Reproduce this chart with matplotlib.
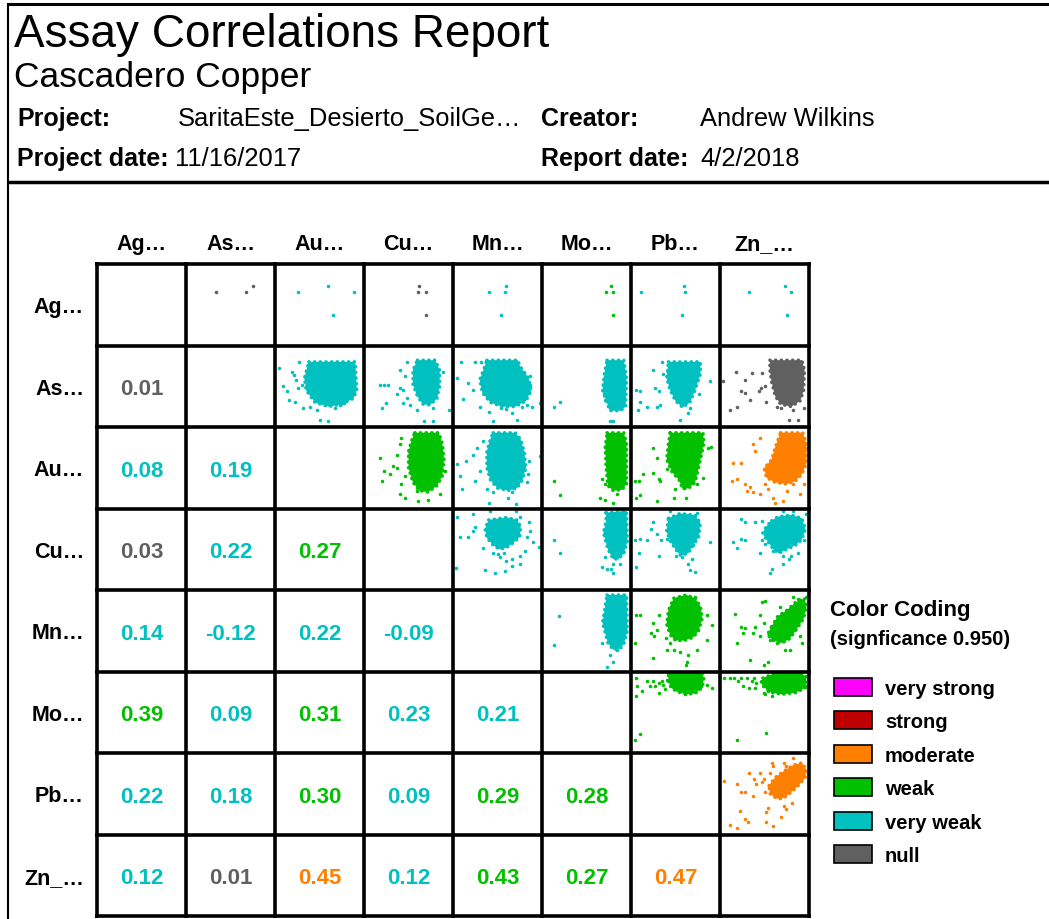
import matplotlib
matplotlib.use('Agg')
import matplotlib.pyplot as plt

plt.rcParams['font.family'] = ['Liberation Sans', 'DejaVu Sans']

W, H = 1049, 920

variables = ['Ag…', 'As…', 'Au…', 'Cu…', 'Mn…', 'Mo…', 'Pb…', 'Zn_…']

# lower triangle, correlation coefficients per row (columns Ag..)
corr_as = [0.01]
corr_au = [0.08, 0.19]
corr_cu = [0.03, 0.22, 0.27]
corr_mn = [0.14, -0.12, 0.22, -0.09]
corr_mo = [0.39, 0.09, 0.31, 0.23, 0.21]
corr_pb = [0.22, 0.18, 0.30, 0.09, 0.29, 0.28]
corr_zn = [0.12, 0.01, 0.45, 0.12, 0.43, 0.27, 0.47]

legend_labels = ['very strong', 'strong', 'moderate', 'weak', 'very weak', 'null']
legend_colors = ['#ff00ff', '#c00000', '#ff8000', '#00c000', '#00c0c0', '#606060']

# scatter clouds, upper triangle, cell coords (x 0-100 left->right, y 0-100 top->bottom)
# row Ag: only a few samples
pts_ag_as = [(34, 34), (67, 34), (75, 27)]
pts_ag_au = [(26, 34), (60, 27), (89, 34), (65, 62)]
pts_ag_cu = [(62, 27), (61, 34), (70, 34), (70, 62)]
pts_ag_mn = [(40, 34), (60, 27), (58, 34), (54, 62)]
pts_ag_mo = [(77, 27), (72, 34), (80, 34), (80, 62)]
pts_ag_pb = [(11, 34), (60, 27), (61, 34), (57, 62)]
pts_ag_zn = [(33, 34), (73, 27), (80, 34), (75, 62)]

# dense cores (outline of the solid blob) + scattered samples around them
core_as_au = [(38, 20), (90, 20), (92, 55), (88, 65), (75, 72), (60, 75), (45, 70), (35, 55), (33, 40)]
pts_as_au = [(5, 28), (9, 50), (13, 56), (19, 32), (21, 36), (26, 52), (27, 20), (16, 67), (22, 69),
             (32, 77), (39, 75), (47, 79), (50, 92), (59, 93), (67, 77), (73, 73), (77, 71), (80, 58),
             (88, 58), (30, 48), (24, 42)]
core_as_cu = [(60, 18), (80, 18), (85, 30), (85, 50), (82, 65), (74, 73), (66, 72), (60, 62), (55, 48), (55, 30)]
pts_as_cu = [(18, 48), (22, 48), (27, 48), (20, 77), (25, 71), (37, 60), (40, 52), (44, 54), (48, 20),
             (40, 30), (46, 38), (44, 71), (52, 73), (59, 79), (67, 93), (78, 93), (78, 77), (95, 79),
             (89, 32), (48, 65)]
core_as_mn = [(38, 18), (73, 18), (75, 25), (85, 40), (88, 55), (82, 68), (70, 75), (55, 75), (42, 70),
              (33, 58), (30, 42), (35, 28)]
pts_as_mn = [(9, 20), (25, 20), (31, 20), (4, 40), (17, 46), (23, 54), (11, 66), (30, 75), (41, 82),
             (45, 93), (54, 77), (60, 78), (66, 83), (72, 92), (77, 75), (83, 73), (89, 75), (86, 48),
             (86, 38), (98, 71)]
core_as_mo = [(73, 18), (92, 18), (95, 40), (94, 75), (88, 80), (76, 80), (73, 70), (68, 55), (70, 35)]
pts_as_mo = [(13, 75), (20, 69), (76, 93), (80, 93), (71, 67), (70, 60)]
core_as_pb = [(42, 20), (78, 20), (78, 35), (72, 55), (66, 70), (58, 76), (50, 68), (44, 55), (40, 40)]
pts_as_pb = [(6, 54), (10, 69), (18, 75), (8, 79), (29, 75), (33, 73), (27, 52), (31, 56), (25, 30),
             (55, 92), (66, 77), (64, 83), (89, 44), (76, 60), (10, 56), (35, 20), (36, 35)]
core_as_zn = [(56, 18), (92, 18), (95, 30), (94, 55), (90, 68), (80, 75), (68, 72), (62, 62), (58, 45), (56, 30)]
pts_as_zn = [(18, 33), (28, 42), (36, 34), (47, 34), (46, 52), (51, 50), (44, 56), (28, 58), (24, 56),
             (34, 67), (19, 75), (11, 79), (52, 69), (64, 75), (69, 77), (77, 92), (88, 92), (82, 79),
             (94, 77), (3, 44)]

core_au_cu = [(57, 7), (84, 7), (88, 20), (90, 40), (88, 60), (82, 72), (72, 80), (62, 78), (55, 68),
              (50, 50), (50, 30), (54, 15)]
pts_au_cu = [(18, 38), (22, 54), (20, 66), (29, 58), (33, 48), (37, 34), (40, 21), (42, 13), (37, 50),
             (42, 70), (40, 82), (46, 87), (61, 91), (72, 89), (85, 82), (59, 78), (46, 60), (91, 54)]
core_au_mn = [(45, 7), (70, 7), (76, 15), (80, 30), (82, 50), (78, 65), (72, 75), (62, 78), (50, 75),
              (42, 65), (38, 50), (38, 30), (42, 15)]
pts_au_mn = [(8, 60), (10, 76), (4, 46), (15, 42), (23, 34), (27, 26), (34, 17), (25, 66), (30, 54),
             (38, 76), (40, 93), (45, 80), (62, 87), (66, 80), (83, 68), (84, 58), (85, 42), (75, 36),
             (98, 36), (71, 95)]
core_au_mo = [(73, 7), (92, 7), (95, 20), (95, 70), (90, 77), (80, 78), (74, 72), (72, 50), (71, 25)]
pts_au_mo = [(13, 66), (20, 83), (65, 87), (71, 89), (80, 93), (71, 70), (67, 64), (84, 82)]
core_au_pb = [(44, 7), (81, 7), (82, 20), (78, 40), (75, 55), (72, 68), (65, 75), (58, 76), (54, 65),
              (46, 55), (40, 40), (42, 20)]
pts_au_pb = [(4, 66), (9, 66), (10, 84), (6, 87), (14, 58), (25, 56), (31, 64), (33, 66), (25, 26),
             (29, 38), (40, 52), (29, 91), (49, 76), (62, 87), (62, 72), (74, 70), (81, 62), (87, 26),
             (90, 24), (48, 87)]
core_au_zn = [(68, 7), (93, 7), (97, 20), (97, 45), (92, 58), (85, 66), (75, 70), (62, 68), (52, 62),
              (50, 50), (58, 40), (62, 25)]
pts_au_zn = [(15, 44), (24, 44), (13, 66), (19, 64), (28, 70), (30, 78), (37, 80), (34, 74), (45, 82),
             (51, 70), (54, 76), (60, 87), (62, 93), (71, 91), (75, 78), (45, 13), (37, 21), (39, 30),
             (49, 52), (82, 70), (94, 70), (95, 26), (90, 82)]

core_cu_mn = [(40, 14), (60, 11), (72, 14), (76, 22), (75, 35), (68, 42), (60, 48), (52, 50), (45, 45),
              (38, 36), (36, 25)]
pts_cu_mn = [(4, 11), (23, 7), (42, 3), (71, 3), (75, 11), (85, 17), (86, 27), (83, 35), (90, 41),
             (81, 52), (75, 58), (66, 62), (66, 70), (60, 64), (53, 60), (51, 56), (57, 54), (34, 48),
             (45, 54), (8, 35), (17, 35), (23, 27), (25, 23), (36, 76), (47, 79), (58, 77), (75, 68),
             (3, 73), (97, 47)]
core_cu_mo = [(72, 5), (95, 3), (96, 40), (92, 55), (86, 62), (80, 62), (74, 50), (69, 30), (72, 15)]
pts_cu_mo = [(13, 39), (20, 54), (67, 72), (73, 74), (80, 68), (78, 74), (80, 79), (88, 68), (71, 60)]
core_cu_pb = [(42, 12), (55, 6), (72, 8), (78, 18), (76, 35), (70, 45), (64, 55), (56, 58), (50, 50),
              (44, 40), (40, 28)]
pts_cu_pb = [(4, 39), (10, 37), (18, 39), (9, 54), (6, 72), (25, 17), (23, 25), (29, 31), (31, 58),
             (40, 37), (34, 39), (51, 58), (57, 60), (64, 68), (66, 76), (72, 78), (68, 62), (70, 45),
             (89, 41), (44, 3), (74, 5)]
core_cu_zn = [(58, 15), (65, 10), (80, 8), (92, 12), (96, 25), (92, 38), (85, 45), (75, 50), (66, 55),
              (60, 50), (52, 38), (48, 30), (52, 22)]
pts_cu_zn = [(15, 41), (19, 48), (24, 37), (28, 39), (24, 13), (28, 17), (39, 17), (47, 15), (52, 27),
             (47, 39), (51, 43), (45, 54), (60, 52), (64, 48), (71, 58), (77, 62), (71, 68), (58, 74),
             (56, 79), (80, 58), (88, 54), (94, 39), (97, 7), (82, 3), (71, 3)]

core_mn_mo = [(73, 6), (95, 6), (96, 50), (92, 66), (88, 72), (80, 73), (74, 65), (68, 40), (71, 20)]
pts_mn_mo = [(19, 32), (13, 67), (76, 80), (80, 88), (73, 94), (84, 74), (67, 65), (88, 8)]
core_mn_pb = [(48, 10), (62, 6), (72, 10), (78, 20), (80, 35), (76, 50), (70, 58), (60, 62), (50, 62),
              (44, 55), (40, 42), (42, 25)]
pts_mn_pb = [(6, 31), (10, 31), (4, 65), (25, 41), (31, 31), (29, 49), (23, 53), (26, 57), (39, 59),
             (44, 65), (40, 74), (25, 84), (48, 74), (55, 76), (64, 80), (74, 74), (85, 61), (91, 43),
             (85, 31), (72, 8), (62, 92), (63, 88), (55, 8)]
core_mn_zn = [(58, 45), (65, 32), (75, 25), (85, 15), (95, 10), (97, 20), (94, 35), (85, 50), (78, 60),
              (70, 65), (60, 62), (53, 55)]
pts_mn_zn = [(17, 29), (24, 45), (28, 47), (26, 53), (37, 53), (39, 45), (45, 31), (47, 15), (51, 13),
             (49, 41), (45, 57), (56, 61), (64, 65), (73, 74), (79, 74), (92, 65), (67, 21), (82, 8),
             (88, 11), (97, 8), (19, 65), (34, 86), (49, 92), (54, 88), (90, 57)]

core_mo_pb = [(42, 2), (80, 2), (82, 8), (80, 20), (72, 27), (62, 28), (52, 25), (45, 20), (42, 12)]
pts_mo_pb = [(6, 8), (7, 18), (6, 30), (12, 24), (18, 12), (21, 18), (25, 12), (27, 18), (31, 14),
             (31, 26), (35, 12), (36, 16), (38, 22), (40, 10), (79, 18), (85, 16), (91, 20), (61, 28),
             (10, 77), (4, 84)]
core_mo_zn = [(48, 8), (62, 2), (90, 2), (97, 6), (96, 20), (85, 26), (70, 28), (58, 26), (50, 20), (46, 14)]
pts_mo_zn = [(4, 8), (11, 8), (16, 8), (20, 12), (24, 8), (26, 18), (30, 8), (33, 20), (36, 12), (38, 8),
             (39, 20), (41, 14), (49, 26), (51, 28), (54, 24), (58, 30), (19, 84), (52, 76), (97, 18)]

core_pb_zn = [(55, 40), (62, 30), (72, 22), (82, 15), (92, 12), (97, 20), (96, 30), (88, 40), (80, 48),
              (72, 55), (64, 56), (56, 50)]
pts_pb_zn = [(4, 34), (19, 38), (24, 48), (28, 48), (37, 53), (33, 24), (38, 32), (41, 38), (45, 24),
             (47, 36), (51, 48), (49, 32), (58, 12), (60, 16), (56, 24), (72, 12), (74, 16), (82, 6),
             (22, 71), (28, 81), (32, 85), (11, 88), (19, 92), (52, 73), (52, 85), (59, 89), (54, 67),
             (69, 79), (67, 55), (72, 65), (74, 69), (81, 61)]

corr_rows = [None, corr_as, corr_au, corr_cu, corr_mn, corr_mo, corr_pb, corr_zn]
clouds = {
    (0, 1): (None, pts_ag_as), (0, 2): (None, pts_ag_au), (0, 3): (None, pts_ag_cu),
    (0, 4): (None, pts_ag_mn), (0, 5): (None, pts_ag_mo), (0, 6): (None, pts_ag_pb),
    (0, 7): (None, pts_ag_zn),
    (1, 2): (core_as_au, pts_as_au), (1, 3): (core_as_cu, pts_as_cu), (1, 4): (core_as_mn, pts_as_mn),
    (1, 5): (core_as_mo, pts_as_mo), (1, 6): (core_as_pb, pts_as_pb), (1, 7): (core_as_zn, pts_as_zn),
    (2, 3): (core_au_cu, pts_au_cu), (2, 4): (core_au_mn, pts_au_mn), (2, 5): (core_au_mo, pts_au_mo),
    (2, 6): (core_au_pb, pts_au_pb), (2, 7): (core_au_zn, pts_au_zn),
    (3, 4): (core_cu_mn, pts_cu_mn), (3, 5): (core_cu_mo, pts_cu_mo), (3, 6): (core_cu_pb, pts_cu_pb),
    (3, 7): (core_cu_zn, pts_cu_zn),
    (4, 5): (core_mn_mo, pts_mn_mo), (4, 6): (core_mn_pb, pts_mn_pb), (4, 7): (core_mn_zn, pts_mn_zn),
    (5, 6): (core_mo_pb, pts_mo_pb), (5, 7): (core_mo_zn, pts_mo_zn),
    (6, 7): (core_pb_zn, pts_pb_zn),
}


def strength_color(r):
    a = abs(r)
    if a < 0.05:
        return legend_colors[5]
    if a < 0.25:
        return legend_colors[4]
    if a < 0.44:
        return legend_colors[3]
    if a < 0.65:
        return legend_colors[2]
    if a < 0.85:
        return legend_colors[1]
    return legend_colors[0]


def corr(i, j):
    # symmetric lookup into the lower triangle
    if i < j:
        i, j = j, i
    return corr_rows[i][j]


fig = plt.figure(figsize=(W / 100, H / 100), dpi=100)
bg = fig.add_axes([0, 0, 1, 1])
bg.set_xlim(0, W)
bg.set_ylim(H, 0)
bg.axis('off')

# report header
bg.plot([7.5, W], [5, 5], color='black', lw=2.2, solid_capstyle='butt')
bg.plot([7.5, 7.5], [4, H], color='black', lw=1.5, solid_capstyle='butt')
bg.plot([7.5, W], [183, 183], color='black', lw=2.5, solid_capstyle='butt')
bg.text(14, 47, 'Assay Correlations Report', fontsize=33, va='baseline')
bg.text(14, 87, 'Cascadero Copper', fontsize=25.5, va='baseline')
lab = dict(fontsize=18, fontweight='bold', va='baseline')
val = dict(fontsize=18.4, va='baseline')
bg.text(17, 126, 'Project:', **lab)
bg.text(178, 126, 'SaritaEste_Desierto_SoilGe…', **val)
bg.text(17, 166, 'Project date:', **lab)
bg.text(175, 166, '11/16/2017', **val)
bg.text(541, 126, 'Creator:', **lab)
bg.text(700, 126, 'Andrew Wilkins', **val)
bg.text(541, 166, 'Report date:', **lab)
bg.text(700, 166, '4/2/2018', **val)

# matrix geometry (pixels)
x0, y0, cw, ch = 97, 265, 89, 81.5
n = len(variables)

for k, name in enumerate(variables):
    bg.text(x0 + (k + 0.5) * cw, 250, name, fontsize=15.5, fontweight='bold', ha='center', va='baseline')
    bg.text(84, y0 + (k + 0.5) * ch + 7.7, name, fontsize=15.5, fontweight='bold', ha='right', va='baseline')

for i in range(1, n):
    for j in range(i):
        r = corr(i, j)
        bg.text(x0 + (j + 0.5) * cw, y0 + (i + 0.5) * ch + 8, f'{r:.2f}', fontsize=16, fontweight='bold',
                color=strength_color(r), ha='center', va='baseline')

for (i, j), (core, pts) in clouds.items():
    c = strength_color(corr(i, j))
    ax = fig.add_axes([(x0 + j * cw) / W, 1 - (y0 + (i + 1) * ch) / H, cw / W, ch / H])
    ax.set_xlim(0, 100)
    ax.set_ylim(100, 0)
    ax.axis('off')
    if core:
        xs = [p[0] for p in core]
        ys = [p[1] for p in core]
        ax.fill(xs, ys, color=c, lw=0)
        # grainy rim so the blob edge looks like packed dots
        ax.plot(xs + xs[:1], ys + ys[:1], color=c, lw=2.4, linestyle=(0, (0.1, 1.6)),
                dash_capstyle='round')
    ax.scatter([p[0] for p in pts], [p[1] for p in pts], s=6.5, color=c, linewidths=0)

# grid lines on top of the clouds
ov = fig.add_axes([0, 0, 1, 1], zorder=10)
ov.set_xlim(0, W)
ov.set_ylim(H, 0)
ov.axis('off')
for k in range(n + 1):
    ov.plot([x0 + k * cw] * 2, [y0 - 1.8, y0 + n * ch + 1.8], color='black', lw=2.6, solid_capstyle='butt')
    ov.plot([x0 - 1.8, x0 + n * cw + 1.8], [y0 + k * ch] * 2, color='black', lw=2.6, solid_capstyle='butt')

# colour legend
bg.text(830, 616, 'Color Coding', fontsize=16, fontweight='bold', va='baseline')
bg.text(830, 645, '(signficance 0.950)', fontsize=14.5, fontweight='bold', va='baseline')
for k, (name, col) in enumerate(zip(legend_labels, legend_colors)):
    cy = 688 + k * 33.4
    bg.add_patch(plt.Rectangle((834, cy - 9), 38, 18, facecolor=col, edgecolor='black', lw=1.2))
    bg.text(885, cy + 7, name, fontsize=14.5, fontweight='bold', va='baseline')

fig.savefig('out.png', dpi=100)
